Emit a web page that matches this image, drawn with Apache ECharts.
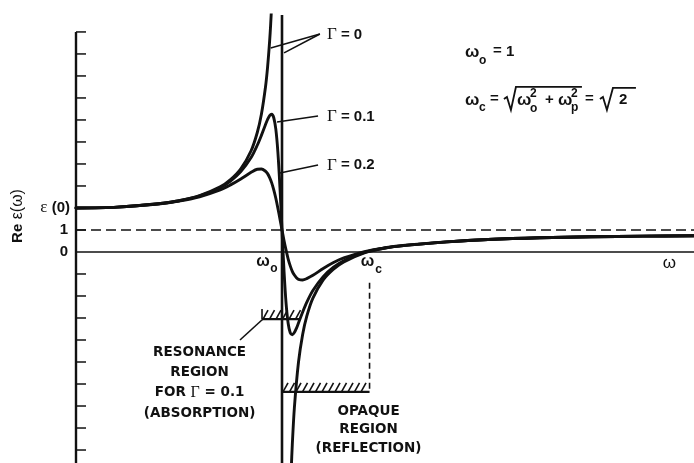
<!DOCTYPE html>
<html>
<head>
<meta charset="utf-8">
<script src="https://cdn.jsdelivr.net/npm/echarts@6/dist/echarts.min.js"></script>
<style>
  html, body { margin: 0; padding: 0; background: #fff; }
  #chart { width: 694px; height: 463px; }
</style>
</head>
<body>
<div id="chart"></div>
<script>
// Real part of the dielectric function of a Lorentz oscillator, ω in units of ω0.
const omega = [0, 0.2, 0.4, 0.5, 0.6, 0.7, 0.75, 0.8, 0.85, 0.88, 0.9, 0.92, 0.93, 0.94, 0.95,
  0.96, 0.97, 0.98, 0.99, 1.0, 1.01, 1.02, 1.03, 1.04, 1.05, 1.06, 1.07, 1.08, 1.1, 1.12,
  1.15, 1.2, 1.25, 1.3, 1.4, 1.5, 1.6, 1.8, 2.0, 2.25, 2.5, 2.75, 3.0];

// Γ = 0.1
const epsGamma01 = [2.00, 2.04, 2.19, 2.33, 2.55, 2.92, 3.22, 3.65, 4.29, 4.85, 5.30, 5.79, 6.02, 6.20, 6.26,
  6.10, 5.58, 4.54, 2.95, 1.00, -0.90, -2.36, -3.25, -3.67, -3.76, -3.66, -3.47, -3.23, -2.74, -2.29,
  -1.75, -1.12, -0.69, -0.40, -0.02, 0.18, 0.30, 0.46, 0.57, 0.65, 0.69, 0.72, 0.74];

// Γ = 0.2
const epsGamma02 = [2.00, 2.04, 2.18, 2.31, 2.51, 2.82, 3.05, 3.32, 3.62, 3.76, 3.77, 3.67, 3.56, 3.38, 3.14,
  2.82, 2.44, 1.99, 1.50, 1.00, 0.51, 0.07, -0.32, -0.63, -0.88, -1.05, -1.17, -1.24, -1.27, -1.21,
  -1.06, -0.75, -0.48, -0.27, 0.02, 0.19, 0.31, 0.46, 0.57, 0.65, 0.69, 0.72, 0.74];

// Γ = 0, below resonance
const omegaBelow = [0, 0.2, 0.4, 0.5, 0.6, 0.7, 0.75, 0.8, 0.85, 0.88, 0.9, 0.92, 0.93, 0.94, 0.945, 0.95];
const epsGamma0Below = [2.00, 2.04, 2.19, 2.33, 2.56, 2.96, 3.29, 3.78, 4.60, 5.43, 6.26, 7.51, 8.40, 9.59, 10.35, 11.26];

// Γ = 0, above resonance
const omegaAbove = [1.04, 1.045, 1.05, 1.06, 1.08, 1.1, 1.12, 1.15, 1.2, 1.25, 1.3, 1.4, 1.5, 1.6, 1.8, 2.0, 2.25, 2.5, 2.75, 3.0];
const epsGamma0Above = [-11.25, -9.87, -8.76, -7.09, -5.01, -3.76, -2.93, -2.10, -1.27, -0.78, -0.45, -0.04, 0.18, 0.30, 0.46, 0.57, 0.65, 0.69, 0.72, 0.74];

// Tick marks along the ε axis
const yTicks = [-9, -8, -7, -6, -5, -4, -3, -2, -1, 1, 2, 3, 4, 5, 6, 7, 8, 9, 10];

const OMEGA_0 = 1;          // resonance frequency
const OMEGA_C = 1.425;      // edge of the opaque band (√2)
const X_MAX = 3;
const Y_MIN = -9.59, Y_MAX = 10.77;

const INK = '#111';
const SANS = '"Liberation Sans", Arial, sans-serif';
const WIDE = '"DejaVu Sans", sans-serif';

const pairs = (xs, ys) => xs.map((x, i) => [x, ys[i]]);

function curve(name, data) {
  return {
    name, type: 'line', data, symbol: 'none', smooth: 0.3,
    lineStyle: { color: INK, width: 2.9, cap: 'round', join: 'round' }, z: 3, silent: true
  };
}

function renderAnnotations(params, api) {
  const P = (w, e) => api.coord([w, e]);
  const kids = [];
  const seg = (a, b, width, dash) => kids.push({
    type: 'line', shape: { x1: a[0], y1: a[1], x2: b[0], y2: b[1] },
    style: { stroke: INK, lineWidth: width, lineDash: dash || null }
  });
  const poly = (pts, width) => kids.push({
    type: 'polyline', shape: { points: pts },
    style: { stroke: INK, lineWidth: width, fill: null }
  });
  const txt = (x, y, text, font, align, rich) => kids.push({
    type: 'text', x, y,
    style: { text, font, fill: INK, align: align || 'center', verticalAlign: 'middle', rich: rich || undefined }
  });

  // ε axis with inward ticks
  seg(P(0, 10), P(0, Y_MIN), 2.4);
  yTicks.forEach(v => { const p = P(0, v); seg(p, [p[0] + 10, p[1]], 1.5); });

  // axis value labels
  const e0 = P(0, 2), e1 = P(0, 1), ez = P(0, 0);
  txt(e0[0] - 6, e0[1], '{e|ε} (0)', 'bold 15px ' + SANS, 'right',
    { e: { font: '17px "Liberation Serif", serif', fill: INK } });
  txt(e1[0] - 8, e1[1], '1', 'bold 15px ' + SANS, 'right');
  txt(ez[0] - 8, ez[1], '0', 'bold 15px ' + SANS, 'right');

  // rotated axis title
  kids.push({
    type: 'text', x: 18, y: 216, rotation: Math.PI / 2,
    style: { text: '{b|Re} ε(ω)', font: '16px ' + SANS, fill: INK, align: 'center', verticalAlign: 'middle',
      rich: { b: { font: 'bold 15px ' + SANS, fill: INK } } }
  });

  // frequency labels
  const w0 = P(OMEGA_0, 0), wc = P(OMEGA_C, 0), wEnd = P(2.88, 0);
  txt(w0[0] - 19, w0[1] + 10, 'ω', 'bold 16px ' + SANS);
  txt(w0[0] - 8, w0[1] + 17, 'o', 'bold 12px ' + SANS);
  txt(wc[0] - 2, wc[1] + 10, 'ω', 'bold 16px ' + SANS);
  txt(wc[0] + 9, wc[1] + 18, 'c', 'bold 12px ' + SANS);
  txt(wEnd[0], wEnd[1] + 11, 'ω', '17px ' + SANS);

  // Γ labels and leader lines
  const gRich = { g: { font: '17px "Liberation Serif", serif', fill: INK } };
  const gLabel = (w, e, text) => { const p = P(w, e); txt(p[0], p[1], text, 'bold 15px ' + SANS, 'left', gRich); };
  gLabel(1.218, 9.86, '{g|Γ} = 0');
  gLabel(1.218, 6.14, '{g|Γ} = 0.1');
  gLabel(1.218, 3.95, '{g|Γ} = 0.2');
  seg(P(1.184, 9.91), P(0.945, 9.27), 1.6);
  seg(P(1.184, 9.91), P(1.01, 9.05), 1.6);
  seg(P(1.175, 6.18), P(0.976, 5.91), 1.6);
  seg(P(1.175, 3.95), P(0.99, 3.59), 1.6);

  // hatched bands
  const hatch = (wa, wb, e) => {
    const a = P(wa, e), b = P(wb, e);
    seg(a, b, 2.2);
    for (let x = a[0] + 1; x < b[0] - 3; x += 6.5) seg([x, a[1]], [x + 5, a[1] - 9], 1.6);
  };
  hatch(0.903, 1.087, -3.05);
  const rl = P(0.903, -3.05);
  seg(rl, [rl[0], rl[1] - 10], 1.6);
  seg(P(0.796, -4.0), P(0.913, -3.0), 1.6);

  hatch(OMEGA_0, OMEGA_C, -6.36);
  seg(P(OMEGA_C, -1.4), P(OMEGA_C, -6.36), 1.6, [6, 4]);

  // region captions
  const capRich = { g: { font: '16px "Liberation Serif", serif', fill: INK } };
  const block = (w, e, lines, gap) => {
    const p = P(w, e);
    lines.forEach((t, i) => txt(p[0], p[1] + i * gap, t, 'bold 13.5px ' + WIDE, 'center', capRich));
  };
  block(0.60, -4.55, ['RESONANCE', 'REGION', 'FOR {g|Γ} = 0.1', '(ABSORPTION)'], 20.3);
  block(1.42, -7.23, ['OPAQUE', 'REGION', '(REFLECTION)'], 18.5);

  // parameter box: ωo = 1, ωc = √(ωo² + ωp²) = √2
  const A1 = P(1.888, 9.09), A2 = P(1.888, 6.91);
  const big = 'bold 17px ' + SANS, small = 'bold 12px ' + SANS, mid = 'bold 15px ' + SANS;
  const at = (A, dx, dy, t, f) => txt(A[0] + dx, A[1] + dy, t, f, 'left');
  at(A1, 0, 0, 'ω', big); at(A1, 14, 9, 'o', small); at(A1, 28, -1, '=', mid); at(A1, 41, 0, '1', mid);
  at(A2, 0, 0, 'ω', big); at(A2, 14, 8, 'c', small); at(A2, 25, -1, '=', mid);
  poly([[A2[0] + 39, A2[1] - 1], [A2[0] + 42, A2[1] - 3], [A2[0] + 46, A2[1] + 10], [A2[0] + 51, A2[1] - 13], [A2[0] + 117, A2[1] - 13]], 1.8);
  at(A2, 52, 0, 'ω', big); at(A2, 65, -6, '2', small); at(A2, 65, 9, 'o', small);
  at(A2, 80, 0, '+', mid);
  at(A2, 93, 0, 'ω', big); at(A2, 106, -6, '2', small); at(A2, 106, 8, 'p', small);
  at(A2, 120, -1, '=', mid);
  poly([[A2[0] + 135, A2[1] - 1], [A2[0] + 138, A2[1] - 3], [A2[0] + 142, A2[1] + 10], [A2[0] + 148, A2[1] - 12], [A2[0] + 171, A2[1] - 12]], 1.8);
  at(A2, 154, 0, '2', mid);

  return { type: 'group', children: kids };
}

const chart = echarts.init(document.getElementById('chart'), null, { renderer: 'canvas' });
chart.setOption({
  animation: false,
  backgroundColor: '#fff',
  grid: { left: 76, right: 0, top: 15, bottom: 0 },
  xAxis: { type: 'value', min: 0, max: X_MAX, show: false },
  yAxis: { type: 'value', min: Y_MIN, max: Y_MAX, show: false },
  series: [
    { name: 'zero', type: 'line', data: [[0, 0], [X_MAX, 0]], symbol: 'none', silent: true,
      lineStyle: { color: INK, width: 1.6 }, z: 2 },
    { name: 'vacuum', type: 'line', data: [[0, 1], [X_MAX, 1]], symbol: 'none', silent: true,
      lineStyle: { color: INK, width: 1.4, type: [10, 5] }, z: 2 },
    curve('Γ = 0.2', pairs(omega, epsGamma02)),
    curve('Γ = 0.1', pairs(omega, epsGamma01)),
    curve('Γ = 0 (ω < ω0)', pairs(omegaBelow, epsGamma0Below)),
    curve('Γ = 0 (ω > ω0)', pairs(omegaAbove, epsGamma0Above)),
    { name: 'Γ = 0 (ω = ω0)', type: 'line', data: [[OMEGA_0, Y_MAX], [OMEGA_0, Y_MIN]], symbol: 'none', silent: true,
      lineStyle: { color: INK, width: 2.6 }, z: 3 },
    { name: 'annotations', type: 'custom', data: [[0, 0]], renderItem: renderAnnotations, silent: true, z: 5 }
  ]
});
</script>
</body>
</html>
